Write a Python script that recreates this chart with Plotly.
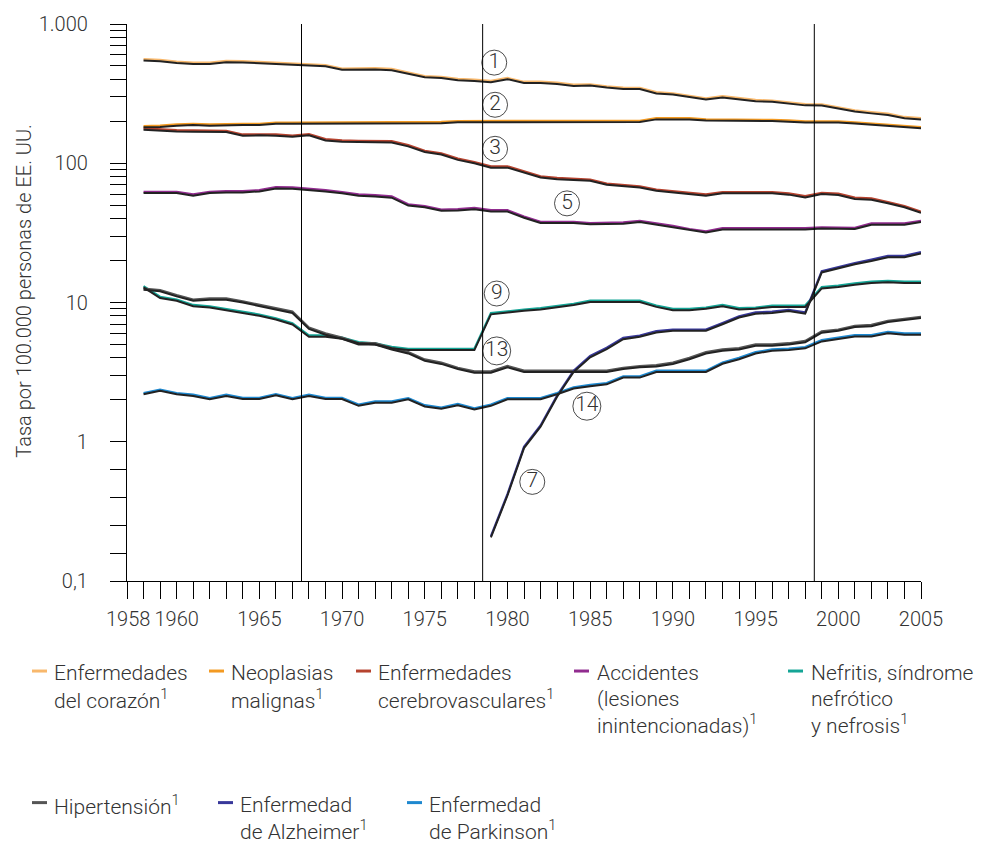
import numpy as np
import plotly.graph_objects as go

# ---------------- data ----------------
years = list(range(1958, 2006))

heart = [559, 552, 537, 528, 528, 543, 541, 534, 528, 520,
         509, 507, 479, 482, 482, 476, 449, 423, 418, 403,
         398, 390, 410, 385, 385, 379, 367, 369, 357, 349,
         348, 324, 318, 306, 293, 303, 293, 285, 282, 275,
         266, 265, 253, 240, 233, 227, 215, 211]
neoplasias = [185, 186, 190, 192, 190, 192, 192, 192, 196, 196,
              196, 196, 196, 196, 198, 198, 198, 198, 198, 201,
              201, 201, 201, 201, 202, 202, 202, 202, 202, 202,
              202, 211, 211, 211, 207, 207, 207, 206, 205, 203,
              200, 200, 200, 197, 193, 190, 186, 182]
cerebro = [178, 175, 173, 172, 171, 171, 161, 162, 161, 158,
           162, 149, 146, 145, 144, 144, 135, 123, 118, 108,
           102, 95, 95, 87.5, 80.6, 78.5, 77.7, 76.4, 71.5, 70.3,
           68.4, 64.8, 63.1, 61.4, 59.7, 62.1, 62.1, 62.1, 62.1, 60.8,
           58.1, 61.4, 60.5, 56.6, 55.9, 52.7, 49.3, 45]
accidentes = [62.4, 62.4, 62.4, 59.7, 62.4, 63.1, 63.1, 64.1, 67.3, 67,
              65.9, 64.1, 62.1, 59.7, 59, 57.8, 50.7, 49.3, 46.5, 46.8,
              47.8, 46, 46, 41.5, 38, 38, 38, 37.2, 37.2, 37.6,
              38.6, 37, 35.6, 33.7, 32.5, 34.2, 34.2, 34.2, 34.2, 34.2,
              34.2, 34.7, 34.7, 34.4, 37, 37, 37, 38.6]
nefritis = [13.1, 11.0, 10.5, 9.6, 9.4, 9.0, 8.6, 8.2, 7.7, 7.1,
            5.8, 5.8, 5.6, 5.2, 5.1, 4.8, 4.65, 4.65, 4.7, 4.67,
            4.65, 8.4, 8.7, 8.9, 9.1, 9.4, 9.8, 10.3, 10.3, 10.3,
            10.3, 9.5, 9.0, 9.0, 9.2, 9.6, 9.1, 9.2, 9.5, 9.5,
            9.5, 12.9, 13.2, 13.7, 14.1, 14.3, 14.1, 14.1]
hipertension = [12.6, 12.3, 11.3, 10.5, 10.7, 10.7, 10.2, 9.6, 9.1, 8.6,
                6.6, 6.0, 5.6, 5.1, 5.1, 4.7, 4.4, 3.9, 3.7, 3.4,
                3.2, 3.2, 3.5, 3.24, 3.24, 3.24, 3.24, 3.24, 3.24, 3.4,
                3.5, 3.55, 3.7, 4.0, 4.4, 4.6, 4.7, 5.0, 5.0, 5.1,
                5.3, 6.2, 6.4, 6.8, 6.9, 7.4, 7.6, 7.9]
parkinson = [2.24, 2.37, 2.24, 2.18, 2.06, 2.18, 2.07, 2.07, 2.20, 2.06,
             2.18, 2.07, 2.07, 1.85, 1.95, 1.95, 2.06, 1.83, 1.76, 1.87,
             1.74, 1.85, 2.06, 2.06, 2.06, 2.24, 2.46, 2.56, 2.64, 2.95,
             2.95, 3.24, 3.24, 3.24, 3.24, 3.71, 4.0, 4.4, 4.6, 4.66,
             4.79, 5.37, 5.6, 5.83, 5.83, 6.15, 6.0, 6.0]
alzheimer = [None] * 21 + [0.21, 0.42, 0.92, 1.31, 2.15, 3.24, 4.13, 4.73, 5.57, 5.79,
                           6.22, 6.4, 6.4, 6.4, 7.13, 7.96, 8.49, 8.6, 8.86, 8.49,
                           16.8, 18.0, 19.2, 20.3, 21.6, 21.6, 23.0]

series_names = [
    "Enfermedades<br>del corazón<sup>1</sup>",
    "Neoplasias<br>malignas<sup>1</sup>",
    "Enfermedades<br>cerebrovasculares<sup>1</sup>",
    "Accidentes<br>(lesiones<br>inintencionadas)<sup>1</sup>",
    "Nefritis, síndrome<br>nefrótico<br>y nefrosis<sup>1</sup>",
    "Hipertensión<sup>1</sup>",
    "Enfermedad<br>de Alzheimer<sup>1</sup>",
    "Enfermedad<br>de Parkinson<sup>1</sup>",
]
series_values = [heart, neoplasias, cerebro, accidentes, nefritis,
                 hipertension, alzheimer, parkinson]

# circled rank labels (year, value)
rank_text = ["1", "2", "3", "5", "9", "13", "14", "7"]
rank_year = [1979.2, 1979.25, 1979.25, 1983.6, 1979.35, 1979.35, 1984.8, 1981.5]
rank_value = [528, 263, 127, 51.5, 11.6, 4.49, 1.80, 0.515]

# classification revision boundaries
revision_years = [1967.55, 1978.5, 1998.55]

y_tick_vals = [0.1, 1, 10, 100, 1000]
y_tick_text = ["0,1", "1", "10", "100", "1.000"]
x_label_years = [1960, 1965, 1970, 1975, 1980, 1985, 1990, 1995, 2000, 2005]

# ---------------- style ----------------
colors = ["#F8B86C", "#F39A22", "#B6432F", "#912C8F", "#14A596",
          "#555555", "#38389A", "#1E88CF"]
FONT = "Roboto, Liberation Sans, Arial, sans-serif"
FW = 300
TXT = "#333333"
W, H = 990, 845
L, R, T, B = 127, 69, 18, 264
PW, PH = W - L - R, H - T - B


def pxx(x):
    return (x - L) / PW


def pxy(y):
    return (H - B - y) / PH


def fnt(size=20):
    return dict(family=FONT, size=size, color=TXT, weight=FW)


fig = go.Figure()

shift = 1.3 / (PH / 4.0)  # shadow offset in decades (~1.3 px)

# shadows
for vals in series_values:
    fig.add_trace(go.Scatter(x=years, y=vals, mode="lines", yaxis="y2",
                             line=dict(color="#222222", width=2.0),
                             hoverinfo="skip", showlegend=False,
                             connectgaps=False))
# colored lines
for name, vals, c in zip(series_names, series_values, colors):
    fig.add_trace(go.Scatter(x=years, y=vals, mode="lines", name=name,
                             line=dict(color=c, width=2.2),
                             showlegend=False, connectgaps=False))

# circled rank numbers
fig.add_trace(go.Scatter(
    x=rank_year, y=rank_value, mode="markers+text", text=rank_text,
    textposition="middle center",
    textfont=fnt(21),
    marker=dict(symbol="circle-open", color="black",
                size=[25 if len(t) == 1 else 28 for t in rank_text],
                line=dict(color="black", width=1)),
    hoverinfo="skip", showlegend=False))

shapes = []
for yr in revision_years:
    shapes.append(dict(type="line", xref="x", yref="paper", x0=yr, x1=yr,
                       y0=0, y1=1, line=dict(color="black", width=1)))

annotations = []

# 1958 tick label (shifted left as in source)
annotations.append(dict(x=1958, y=0, xref="x", yref="paper", text="1958",
                        showarrow=False, yanchor="top", xshift=-16, yshift=-24,
                        font=fnt(20)))

# y title
annotations.append(dict(x=pxx(24), y=pxy(287.5), xref="paper", yref="paper",
                        xanchor="center", yanchor="middle",
                        text="Tasa por 100.000 personas de EE. UU.",
                        textangle=-90, showarrow=False, font=fnt(20)))

# manual legend (one annotation per text line)
leg_dash_x = [32, 209, 356, 574, 788, 32, 218, 407]
leg_text_x = [53, 230, 377, 596, 810, 53, 239, 428]
leg_row_y = [672, 672, 672, 672, 672, 805, 805, 805]
LINE_H = 25.8
for name, c, dx, tx, ry in zip(series_names, colors, leg_dash_x, leg_text_x, leg_row_y):
    shapes.append(dict(type="line", xref="paper", yref="paper",
                       x0=pxx(dx), x1=pxx(dx + 15), y0=pxy(ry), y1=pxy(ry),
                       line=dict(color=c, width=3)))
    for i, line in enumerate(name.split("<br>")):
        annotations.append(dict(x=pxx(tx - 1), y=pxy(ry + 2 + i * LINE_H),
                                xref="paper", yref="paper",
                                text=line, showarrow=False, xanchor="left",
                                yanchor="middle", align="left", font=fnt(21)))

minor_y = []
for d in [1, 10, 100]:
    minor_y += [k * d for k in range(2, 10)]
minor_y += [10 ** v for v in (-0.8, -0.6, -0.4, -0.2)]

fig.update_layout(
    width=W, height=H,
    margin=dict(l=L, r=R, t=T, b=B),
    paper_bgcolor="white", plot_bgcolor="white",
    font=fnt(20),
    showlegend=False,
    xaxis=dict(range=[1957, 2005], showgrid=False, zeroline=False,
               showline=True, linecolor="black", linewidth=1.2,
               tickmode="array", tickvals=x_label_years,
               ticktext=[str(y) for y in x_label_years],
               ticks="outside", ticklen=17, tickwidth=1, tickcolor="black",
               ticklabelstandoff=3, tickfont=fnt(20),
               minor=dict(tick0=1958, dtick=1, ticks="outside", ticklen=17,
                          tickwidth=1, tickcolor="black", showgrid=False)),
    yaxis=dict(type="log", range=[-1, 3], showgrid=False, zeroline=False,
               showline=True, linecolor="black", linewidth=1.2,
               tickmode="array", tickvals=y_tick_vals, ticktext=y_tick_text,
               ticks="outside", ticklen=16, tickwidth=1, tickcolor="black",
               ticklabelstandoff=18, tickfont=fnt(20),
               minor=dict(tickmode="array", tickvals=minor_y, ticks="outside",
                          ticklen=16, tickwidth=1, tickcolor="black",
                          showgrid=False)),
    yaxis2=dict(type="log", range=[-1 + shift, 3 + shift], overlaying="y",
                visible=False, showgrid=False),
    shapes=shapes,
    annotations=annotations,
)

fig.write_html(
    "out.html",
    config={"displayModeBar": False},
    post_script="document.body.style.margin='0px';document.body.style.overflow='hidden';",
)
